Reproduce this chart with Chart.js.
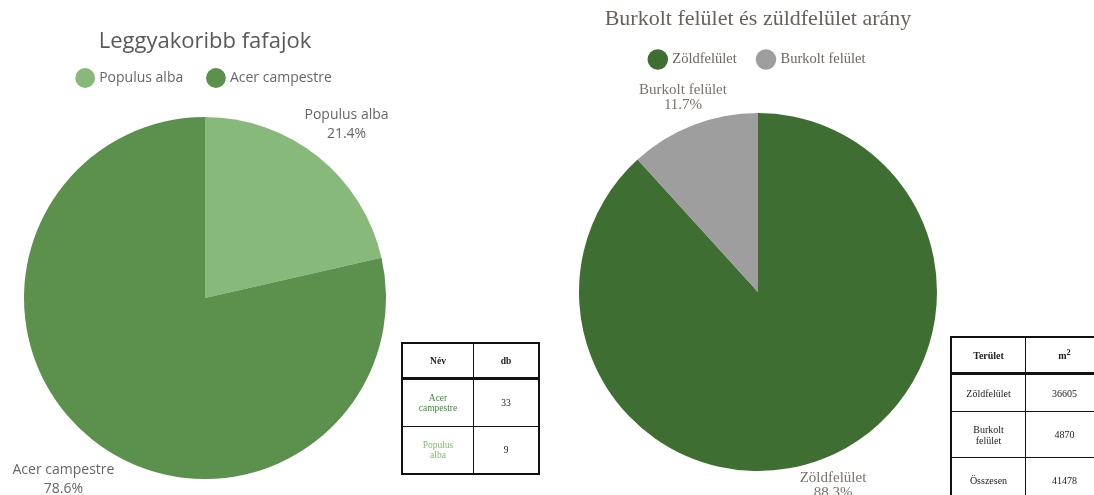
<!DOCTYPE html>
<html>
<head>
<meta charset="utf-8">
<script src="https://cdn.jsdelivr.net/npm/chart.js@4.4.0/dist/chart.umd.min.js"></script>
<style>
  body { margin: 0; width: 1094px; height: 495px; overflow: hidden; background: #fff; position: relative; }
  .wrap { position: absolute; top: 0; }
  #leftWrap { left: 0; width: 410px; height: 520px; }
  #rightWrap { left: 558px; width: 400px; height: 520px; }
  table { position: absolute; border-collapse: collapse; table-layout: fixed; font-family: "Liberation Serif", serif; font-size: 9.5px; color: #222; text-align: center; }
  td, th { border: 1.5px solid #111; padding: 0; }
  th { border-bottom: 3px solid #111; }
  #treeTable { left: 401px; top: 342px; width: 139px; border: 2px solid #111; }
  #treeTable th { height: 33px; }
  #treeTable td { height: 46px; }
  #treeTable .c1 { width: 70px; }
  #treeTable td.name { padding: 0 14px; }
  #areaTable { left: 950px; top: 336px; width: 155px; border: 2px solid #111; font-size: 10px; }
  #areaTable th { height: 34px; }
  #areaTable td { height: 36px; }
  #areaTable .c1 { width: 73px; }
  #areaTable td.name { padding: 0 8px; }
  #areaTable tr.tall td { height: 45px; }
</style>
</head>
<body>
<div class="wrap" id="leftWrap"><canvas id="treeChart"></canvas></div>
<div class="wrap" id="rightWrap"><canvas id="areaChart"></canvas></div>
<table id="treeTable"></table>
<table id="areaTable"></table>
<script>
// Data
var species = ['Populus alba', 'Acer campestre'];
var speciesCounts = [9, 33];
var speciesColors = ['#87b97b', '#5b904d'];
var speciesTextColors = ['#7cbf6c', '#3f8f38'];
var treeTableHead = ['Név', 'db'];

var areas = ['Zöldfelület', 'Burkolt felület'];
var areaValues = [36605, 4870];
var areaColors = ['#3e6e31', '#9e9e9e'];
var areaTableHead = ['Terület', 'm<sup>2</sup>'];
var areaTotalLabel = 'Összesen';
var areaTotal = 41478;

// labels outside the slices: name + percent
var outsideLabels = {
    id: 'outsideLabels',
    afterDatasetsDraw: function (chart, args, opts) {
        var ctx = chart.ctx;
        var meta = chart.getDatasetMeta(0);
        var values = chart.data.datasets[0].data;
        var total = values.reduce(function (a, b) { return a + b; }, 0);
        ctx.save();
        ctx.font = opts.font;
        ctx.fillStyle = opts.color;
        ctx.textAlign = 'center';
        ctx.textBaseline = 'middle';
        meta.data.forEach(function (arc, i) {
            var mid = (arc.startAngle + arc.endAngle) / 2;
            var d = arc.outerRadius + opts.offset;
            var x = arc.x + Math.cos(mid) * d;
            var y = arc.y + Math.sin(mid) * d + opts.dy;
            var pct = (values[i] / total * 100).toFixed(1) + '%';
            ctx.fillText(chart.data.labels[i], x, y - opts.lineGap / 2);
            ctx.fillText(pct, x, y + opts.lineGap / 2);
        });
        ctx.restore();
    }
};

// Left chart
var treeChart = new Chart(document.getElementById('treeChart'), {
    type: 'pie',
    data: {
        labels: species,
        datasets: [{
            data: speciesCounts,
            backgroundColor: speciesColors,
            borderWidth: 0,
            hoverOffset: 0,
            hoverBorderWidth: 0
        }]
    },
    options: {
        responsive: true,
        maintainAspectRatio: false,
        animation: false,
        layout: { padding: { left: 24, right: 24, bottom: 19 } },
        plugins: {
            title: {
                display: true,
                text: 'Leggyakoribb fafajok',
                color: '#595959',
                font: { family: 'Open Sans', size: 22, weight: 'normal', lineHeight: 0.3 },
                padding: { top: 38.7, bottom: 0 }
            },
            legend: {
                position: 'top',
                labels: {
                    usePointStyle: true,
                    pointStyle: 'circle',
                    padding: 25.7,
                    color: '#666',
                    font: { family: 'Open Sans', size: 14 }
                }
            },
            tooltip: { enabled: false },
            outsideLabels: { font: '14px "Open Sans"', color: '#666', offset: 46, lineGap: 19, dy: 4 }
        }
    },
    plugins: [outsideLabels]
});

// Right chart
var areaChart = new Chart(document.getElementById('areaChart'), {
    type: 'pie',
    data: {
        labels: areas,
        datasets: [{
            data: areaValues,
            backgroundColor: areaColors,
            borderWidth: 0,
            hoverOffset: 0,
            hoverBorderWidth: 0
        }]
    },
    options: {
        responsive: true,
        maintainAspectRatio: false,
        animation: false,
        layout: { padding: { left: 21, right: 21, bottom: 12.75 } },
        plugins: {
            title: {
                display: true,
                text: 'Burkolt felület és züldfelület arány',
                color: '#6b605a',
                font: { family: 'Liberation Serif', size: 22, weight: 'normal', lineHeight: 0.98 },
                padding: { top: 8.75, bottom: 0 }
            },
            legend: {
                position: 'top',
                labels: {
                    usePointStyle: true,
                    pointStyle: 'circle',
                    padding: 22,
                    color: '#6d6561',
                    font: { family: 'Liberation Serif', size: 14.5 }
                }
            },
            tooltip: { enabled: false },
            outsideLabels: { font: '15px "Liberation Serif"', color: '#7a716c', offset: 29, lineGap: 15, dy: 0 }
        }
    },
    plugins: [outsideLabels]
});

// Tables
var treeRows = '<tr><th class="c1">' + treeTableHead[0] + '</th><th>' + treeTableHead[1] + '</th></tr>';
[1, 0].forEach(function (i) {
    treeRows += '<tr><td class="name" style="color:' + speciesTextColors[i] + '">' + species[i] +
        '</td><td>' + speciesCounts[i] + '</td></tr>';
});
document.getElementById('treeTable').innerHTML = treeRows;

var areaRows = '<tr><th class="c1">' + areaTableHead[0] + '</th><th>' + areaTableHead[1] + '</th></tr>';
areas.forEach(function (name, i) {
    areaRows += '<tr' + (i === 1 ? ' class="tall"' : '') + '><td class="name">' + name + '</td><td>' + areaValues[i] + '</td></tr>';
});
areaRows += '<tr class="tall"><td class="name">' + areaTotalLabel + '</td><td>' + areaTotal + '</td></tr>';
document.getElementById('areaTable').innerHTML = areaRows;
</script>
</body>
</html>
